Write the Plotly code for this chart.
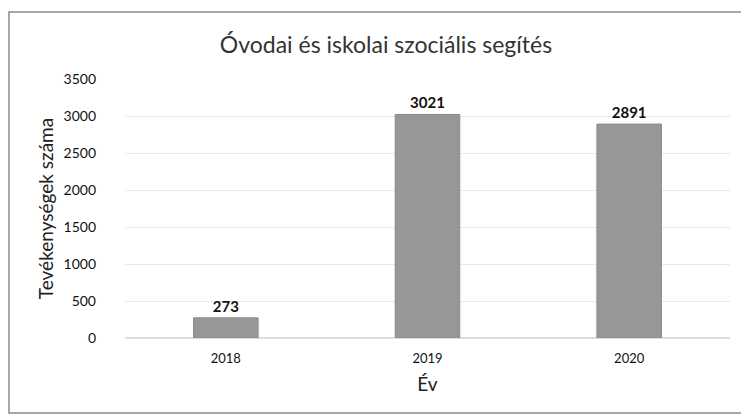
import plotly.graph_objects as go

# adatok
years = ["2018", "2019", "2020"]
activities = [273, 3021, 2891]
y_ticks = [0, 500, 1000, 1500, 2000, 2500, 3000, 3500]

font_name = "Lato, 'Open Sans', sans-serif"

# the page body has an 8px margin, so the figure is a bit smaller than the window
W, H = 741, 411
ml, mr, mt, mb = 117, 19, 71, 81
pw, ph = W - ml - mr, H - mt - mb

fig = go.Figure()
fig.add_trace(go.Bar(
    x=years,
    y=activities,
    marker=dict(color="#979797", line=dict(color="#8a8a8a", width=1)),
    text=[str(v) for v in activities],
    textposition="outside",
    textfont=dict(family=font_name, size=15, color="#111111", weight="bold"),
    cliponaxis=False,
    width=0.32,
))

fig.update_layout(
    width=W,
    height=H,
    paper_bgcolor="white",
    plot_bgcolor="white",
    margin=dict(l=ml, r=mr, t=mt, b=mb),
    showlegend=False,
    title=dict(
        text="Óvodai és iskolai szociális segítés",
        x=378 / W, xanchor="center",
        y=1 - 37 / H, yanchor="middle", yref="container",
        font=dict(family=font_name, size=23, color="#333333"),
    ),
    font=dict(family=font_name, color="#333333"),
    xaxis=dict(
        automargin=False,
        showgrid=False,
        showline=False,
        tickfont=dict(size=13, color="#111111"),
        title=dict(text="Év", standoff=12, font=dict(size=19, color="#222222")),
        ticklabelstandoff=11,
    ),
    yaxis=dict(
        automargin=False,
        range=[0, 3500],
        tickvals=y_ticks,
        showgrid=True,
        gridcolor="#e9e9e9",
        zeroline=True,
        zerolinecolor="#dedede",
        tickfont=dict(size=14, color="#111111"),
        ticklabelstandoff=28,
        title=dict(text="Tevékenységek száma", standoff=4,
                   font=dict(size=19, color="#222222")),
    ),
    shapes=[dict(
        type="rect", xref="paper", yref="paper",
        x0=(1 - ml) / pw, x1=(737 - ml) / pw,
        y0=(mt + ph - 405) / ph, y1=(mt + ph - 4) / ph,
        line=dict(color="#8a8a8a", width=1.5),
        fillcolor="rgba(0,0,0,0)",
        layer="below",
    )],
)

fig.write_html("out.html")
